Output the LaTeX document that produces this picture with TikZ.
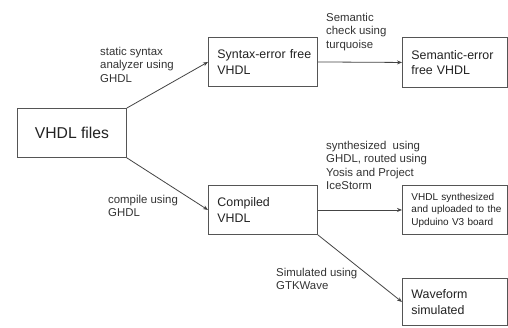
\documentclass[tikz,border=0pt]{standalone}
\usepackage{fontspec}
\setmainfont{Liberation Sans}
\usetikzlibrary{arrows.meta}
\definecolor{boxline}{HTML}{555555}
\definecolor{txt}{HTML}{222222}
\definecolor{lbl}{HTML}{333333}
\definecolor{arr}{HTML}{444444}
\tikzset{
  box/.style={draw=boxline, line width=0.9pt, anchor=north west, inner xsep=9pt, inner ysep=0pt,
    align=left, text=txt, font=\fontsize{12.4}{15.5}\selectfont},
  smallbox/.style={box, font=\fontsize{10}{12.5}\selectfont},
  lab/.style={anchor=north west, inner sep=0pt, align=left, text=lbl,
    font=\fontsize{11.4}{13.5}\selectfont},
  conn/.style={draw=arr, line width=0.8pt, -{Stealth[length=5pt,width=4pt]}}
}
\begin{document}
\begin{tikzpicture}[x=1pt,y=-1pt]
\useasboundingbox[fill=white] (0,0) rectangle (508,327);
\node[box, minimum width=109pt, minimum height=49pt, align=center, font=\fontsize{15.7}{18}\selectfont] (files) at (17,108) {VHDL files};
\node[box, minimum width=109pt, minimum height=49pt, text width=91pt] (syntax) at (208,37) {\mbox{Syntax-error free}\\VHDL};
\node[box, minimum width=105pt, minimum height=50pt, text width=87pt] (semantic) at (402,37) {\mbox{Semantic-error}\\free VHDL};
\node[box, minimum width=109pt, minimum height=49pt, text width=91pt] (compiled) at (208,185) {Compiled\\VHDL};
\node[smallbox, minimum width=105pt, minimum height=49pt, text width=87pt] (synth) at (402,185) {\mbox{VHDL synthesized}\\\mbox{and uploaded to the}\\\mbox{Upduino V3 board}};
\node[box, minimum width=105pt, minimum height=47pt, text width=87pt] (wave) at (402,278) {Waveform\\simulated};

\node[lab] (l1) at (100,47) {static syntax\\analyzer using\\GHDL};
\node[lab] (l2) at (326,13) {Semantic\\check using\\turquoise};
\node[lab] (l3) at (108,195) {compile using\\GHDL};
\node[lab] (l4) at (326,141) {synthesized\ \ using\\GHDL, routed using\\Yosis and Project\\IceStorm};
\node[lab] (l5) at (276,268) {Simulated using\\GTKWave};

\draw[conn] (files.north east) -- (syntax.west);
\draw[conn] (files.south east) -- (compiled.west);
\draw[conn] (syntax.east) -- (semantic.west);
\draw[conn] (compiled.east) -- (synth.west);
\draw[conn] (compiled.south east) -- (wave.west);
\end{tikzpicture}
\end{document}
